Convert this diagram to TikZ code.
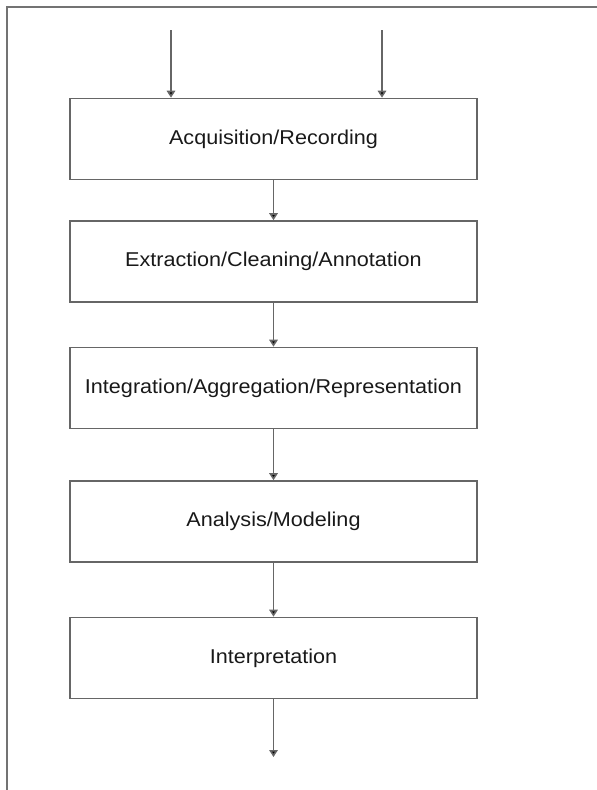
\documentclass[tikz,border=0pt]{standalone}
\usepackage{fontspec}
\setmainfont{Liberation Sans}
\newfontfamily\stagefont[FakeStretch=1.08]{Liberation Sans}
\usetikzlibrary{arrows.meta}
\begin{document}
\begin{tikzpicture}[x=1pt,y=-1pt,
  stagebox/.style={draw=black!60,line width=1.6pt,minimum width=407pt,minimum height=81pt,inner sep=0pt,font=\stagefont\fontsize{20}{23}\selectfont,text=black!90},
  flow/.style={draw=black!60,line width=1.6pt,-{Triangle[length=7pt,width=8.5pt,fill=black]}},
  frame/.style={draw=black!55,line width=1.6pt}]
\useasboundingbox (0,0) rectangle (597,790);
\draw[frame] (597,7) -- (7,7) -- (7,790);
\node[stagebox] (b1) at (273.5,139) {Acquisition/Recording};
\node[stagebox] (b2) at (273.5,261.5) {Extraction/Cleaning/Annotation};
\node[stagebox] (b3) at (273.5,388) {Integration/Aggregation/Representation};
\node[stagebox] (b4) at (273.5,521.5) {Analysis/Modeling};
\node[stagebox] (b5) at (273.5,658) {Interpretation};
\coordinate (inL) at (171,30);
\coordinate (inR) at (382,30);
\coordinate (out) at (273.5,757);
\draw[flow] (inL) -- (inL |- b1.north);
\draw[flow] (inR) -- (inR |- b1.north);
\draw[flow] (b1) -- (b2);
\draw[flow] (b2) -- (b3);
\draw[flow] (b3) -- (b4);
\draw[flow] (b4) -- (b5);
\draw[flow] (b5) -- (out);
\end{tikzpicture}
\end{document}
